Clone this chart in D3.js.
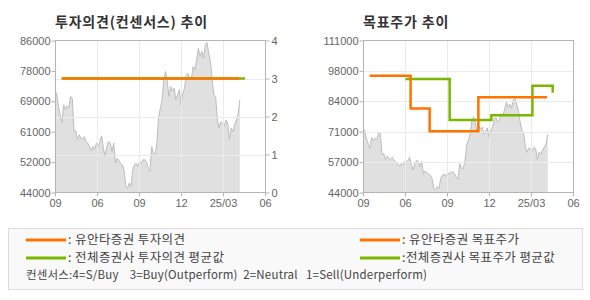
<!DOCTYPE html>
<html>
<head>
<meta charset="utf-8">
<script src="https://cdn.jsdelivr.net/npm/d3@7"></script>
<style>
body { margin: 0; background: #fff; }
text { font-family: "Liberation Sans", Arial, sans-serif; }
.kr { font-family: "Noto Sans CJK KR", sans-serif; }
</style>
</head>
<body>
<div id="viz"></div>
<script>
const w = 590;
const h = 300;

// x axis: months from the first tick
const xTickMonths = [0, 3, 6, 9, 12, 15];
const xTickLabels = ['09', '06', '09', '12', '25/03', '06'];

// daily close (sampled), spread from priceSpan[0] to priceSpan[1] months
const priceSpan = [0, 13.2];
const price = [
  71900, 71450, 67760, 65460, 63340, 68220, 66850, 67950, 67300, 70530,
  70070, 60860, 61130, 58550, 59940, 59010, 58740, 59480, 58100, 57630,
  56710, 55600, 56700, 55970, 57630, 56710, 58100, 59660, 56250, 53950,
  56710, 58100, 57630, 55330, 57630, 52100, 53490, 52840, 51920, 51650,
  50270, 45660, 45200, 46580, 45660, 50270, 51650, 52100, 51190, 52570,
  52100, 53030, 53030, 52290, 50730, 49800, 56710, 54870, 54410, 57630,
  65000, 67300, 69600, 75130, 77430, 74670, 70530, 73300, 71900, 72830,
  69600, 71000, 72400, 68220, 71450, 72830, 76510, 76970, 75130, 75590,
  78820, 77890, 80660, 83880, 81580, 82960, 81120, 84800, 85450, 82500,
  80200, 75130, 71000, 70530, 64080, 61780, 63620, 63160, 62240, 64080,
  63160, 58550, 61780, 60860, 62700, 64080, 65460, 69600
];

const leftPriceTicks = [44000, 52400, 60800, 69200, 77600, 86000];
const rightPriceTicks = [44000, 57400, 70800, 84200, 97600, 111000];
const opinionTicks = [0, 1, 2, 3, 4];

// [month, value]
const opinionYuanta = [[0.48, 3], [13.16, 3]];
const opinionAll = [[0.48, 3], [13.57, 3]];
const targetYuanta = [[0.48, 95500], [3.4, 81000], [4.76, 71000], [8.24, 86000], [13.14, 86000]];
const targetAll = [[3.03, 94000], [6.19, 76000], [9.17, 78000], [12.1, 91000], [13.55, 88000]];

const orange = '#ff7300';
const green = '#7ab800';
const fmt = v => d3.format('d')(Math.round(v / 1000) * 1000);

const svg = d3.select('#viz').append('svg')
    .attr('width', w)
    .attr('height', h)

const plotTop = 40.5, plotBottom = 192.5, pw = 210;

function panel(x0, ticks, title, withOpinion) {
    let g = svg.append('g')
    let x = d3.scaleLinear().domain([0, 15]).range([x0, x0 + pw])
    let y = d3.scaleLinear().domain([ticks[0], ticks[ticks.length - 1]]).range([plotBottom, plotTop])
    let yo = d3.scaleLinear().domain([0, 4]).range([plotBottom, plotTop])

    g.append('text')
        .attr('class', 'kr')
        .attr('x', x0)
        .attr('y', 27)
        .attr('font-size', 14)
        .attr('font-weight', 'bold')
        .attr('letter-spacing', 0.8)
        .attr('fill', '#333')
        .text(title)

    // price area
    let xp = d3.scaleLinear().domain([0, price.length - 1]).range([x(priceSpan[0]), x(priceSpan[1])])
    g.append('path')
        .datum(price)
        .attr('fill', '#e0e0e0')
        .attr('d', d3.area().x((d, i) => xp(i)).y0(plotBottom).y1(d => y(d)))
    g.append('path')
        .datum(price)
        .attr('fill', 'none')
        .attr('stroke', '#bdbdbd')
        .attr('d', d3.line().x((d, i) => xp(i)).y(d => y(d)))

    // grid
    let grid = g.append('g').attr('stroke', '#ebebeb')
    grid.selectAll('.vx').data(xTickMonths.slice(1, -1)).join('line')
        .attr('x1', d => Math.round(x(d)) + 0.5).attr('x2', d => Math.round(x(d)) + 0.5)
        .attr('y1', plotTop).attr('y2', plotBottom)
    let hy = withOpinion ? opinionTicks.slice(1, -1).map(yo) : ticks.slice(1, -1).map(y)
    grid.selectAll('.hy').data(hy).join('line')
        .attr('x1', x0).attr('x2', x0 + pw)
        .attr('y1', d => Math.round(d) + 0.5).attr('y2', d => Math.round(d) + 0.5)

    g.append('rect')
        .attr('x', x0 + 0.5).attr('y', plotTop)
        .attr('width', pw).attr('height', plotBottom - plotTop)
        .attr('fill', 'none')
        .attr('stroke', '#b4b4b4')

    // axes
    let leftAxis = g.append('g')
        .attr('transform', `translate(${x0 + 0.5},0)`)
        .call(d3.axisLeft(y).tickValues(ticks).tickFormat(fmt).tickSize(4).tickPadding(1))
    let bottomAxis = g.append('g')
        .attr('transform', `translate(0,${plotBottom})`)
        .call(d3.axisBottom(x).tickValues(xTickMonths).tickFormat((d, i) => xTickLabels[i]).tickSize(4).tickPadding(3))
    let axes = [leftAxis, bottomAxis]
    if (withOpinion) {
        axes.push(g.append('g')
            .attr('transform', `translate(${x0 + pw + 0.5},0)`)
            .call(d3.axisRight(yo).tickValues(opinionTicks).tickFormat(d3.format('d')).tickSize(4).tickPadding(2)))
    }
    axes.forEach(a => {
        a.select('.domain').remove()
        a.selectAll('line').attr('stroke', '#b4b4b4')
        a.selectAll('text').attr('fill', '#666').attr('font-size', 11)
            .attr('font-family', '"Liberation Sans", Arial, sans-serif')
    })

    let line = d3.line().x(d => x(d[0])).y(d => (withOpinion ? yo : y)(d[1])).curve(d3.curveStepAfter)
    let series = withOpinion ? [opinionAll, opinionYuanta] : [targetAll, targetYuanta]
    let colors = [green, orange]
    series.forEach((s, i) => {
        g.append('path')
            .datum(s)
            .attr('fill', 'none')
            .attr('stroke', colors[i])
            .attr('stroke-width', 2.5)
            .attr('d', line)
    })
}

panel(55, leftPriceTicks, '투자의견(컨센서스) 추이', true)
panel(363, rightPriceTicks, '목표주가 추이', false)

// legend
let legend = svg.append('g')
legend.append('rect')
    .attr('x', 8.5).attr('y', 228.5)
    .attr('width', 574).attr('height', 61)
    .attr('fill', '#f9f9f9')
    .attr('stroke', '#dcdcdc')

const legendItems = [
    { x: 26, y: 240, color: orange, label: ': 유안타증권 투자의견' },
    { x: 26, y: 258, color: green, label: ': 전체증권사 투자의견 평균값' },
    { x: 360, y: 240, color: orange, label: ': 유안타증권 목표주가' },
    { x: 360, y: 258, color: green, label: ':전체증권사 목표주가 평균값' }
]
legendItems.forEach(d => {
    legend.append('line')
        .attr('x1', d.x).attr('x2', d.x + 40)
        .attr('y1', d.y).attr('y2', d.y)
        .attr('stroke', d.color)
        .attr('stroke-width', 3)
    legend.append('text')
        .attr('class', 'kr')
        .attr('x', d.x + 42).attr('y', d.y)
        .attr('dy', '0.35em')
        .attr('font-size', 12.5)
        .attr('letter-spacing', 0.4)
        .attr('fill', '#444')
        .text(d.label)
})
legend.append('text')
    .attr('class', 'kr')
    .attr('x', 26).attr('y', 275)
    .attr('dy', '0.35em')
    .attr('font-size', 11.5)
    .attr('letter-spacing', 0.2)
    .attr('fill', '#444')
    .style('white-space', 'pre')
    .text('컨센서스:4=S/Buy    3=Buy(Outperform)  2=Neutral   1=Sell(Underperform)')
</script>
</body>
</html>
